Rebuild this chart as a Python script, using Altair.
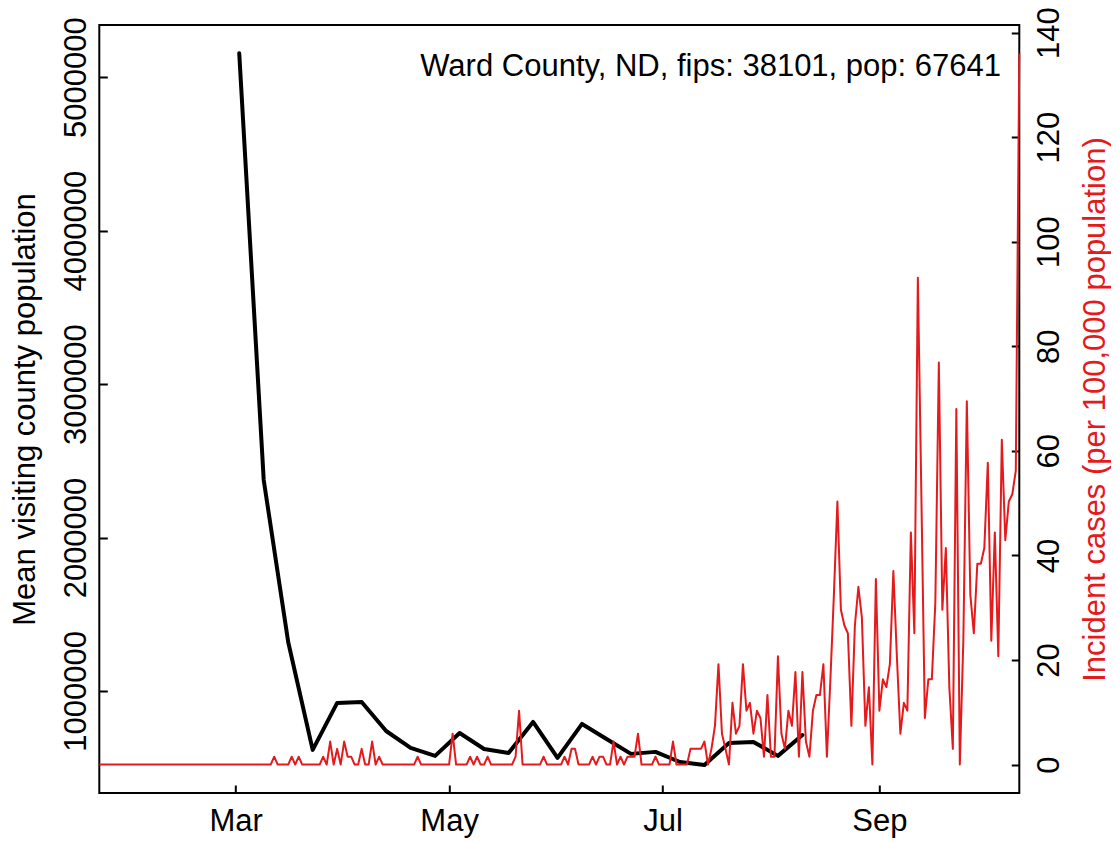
import altair as alt
import pandas as pd

FONT = "Liberation Sans"
RED = "#E41A1C"
W, H = 920, 768

# Weekly mean visiting county population (left axis)
visit_dates = ["2020-03-02", "2020-03-09", "2020-03-16", "2020-03-23", "2020-03-30",
               "2020-04-06", "2020-04-13", "2020-04-20", "2020-04-27", "2020-05-04",
               "2020-05-11", "2020-05-18", "2020-05-25", "2020-06-01", "2020-06-08",
               "2020-06-15", "2020-06-22", "2020-06-29", "2020-07-06", "2020-07-13",
               "2020-07-20", "2020-07-27", "2020-08-03", "2020-08-10"]
visit_pop = [5156000, 2375000, 1319000, 616000, 922000, 928000, 739000, 629000,
             577000, 726000, 622000, 596000, 798000, 564000, 785000, 687000,
             590000, 603000, 537000, 518000, 661000, 668000, 577000, 713000]

# Daily incident cases per 100,000 population (right axis), from 2020-01-22
case_start = "2020-01-22"
incidence = [
    # Jan 22 - Feb 29
    0, 0, 0, 0, 0, 0, 0, 0, 0, 0,
    0, 0, 0, 0, 0, 0, 0, 0, 0, 0,
    0, 0, 0, 0, 0, 0, 0, 0, 0, 0,
    0, 0, 0, 0, 0, 0, 0, 0, 0,
    # Mar 1 onwards
    0, 0, 0, 0, 0, 0, 0, 0, 0, 0,
    0, 1.5, 0, 0, 0, 0, 1.5, 0, 1.5, 0,
    0, 0, 0, 0, 0, 1.5, 0, 4.4, 0, 3.0,
    0, 4.4, 1.5, 1.5, 0, 0, 3.0, 0, 0, 4.4,
    0, 1.5, 0, 0, 0, 0, 0, 0, 0, 0,
    0, 0, 1.5, 0, 0, 0, 0, 0, 0, 0,
    0, 0, 5.9, 0, 0, 0, 0, 1.5, 0, 1.5,
    0, 0, 1.5, 0, 0, 0, 0, 0, 0, 0,
    1.5, 10.3, 0, 0, 0, 0, 0, 0, 1.5, 0,
    0, 0, 0, 0, 1.5, 0, 3.0, 3.0, 0, 0,
    0, 0, 1.5, 0, 1.5, 1.5, 0, 0, 4.4, 0,
    1.5, 0, 1.5, 1.5, 1.5, 5.9, 0, 0, 0, 0,
    1.5, 0, 0, 0, 0, 4.4, 0, 0, 0, 0,
    3.0, 3.0, 3.0, 3.0, 4.4, 0, 3.0, 7.4, 19.2, 5.9,
    3.0, 0, 11.8, 5.9, 7.4, 19.2, 10.3, 11.8, 5.9, 10.3,
    8.9, 1.5, 13.3, 1.5, 1.5, 20.7, 5.9, 3.0, 10.3, 7.4,
    17.7, 1.5, 17.7, 4.4, 1.5, 10.3, 13.3, 13.3, 19.2, 1.5,
    16.3, 32.5, 50.3, 29.6, 26.6, 25.1, 7.4, 26.6, 34.0, 28.1,
    7.4, 14.8, 0, 35.5, 10.3, 16.3, 14.8, 19.2, 37.0, 20.7,
    5.9, 11.8, 10.3, 44.4, 25.1, 93.1, 51.7, 8.9, 16.3, 16.3,
    31.0, 76.9, 29.6, 41.4, 14.8, 3.0, 68.0, 0, 23.7, 69.5,
    32.5, 25.1, 38.4, 38.4, 41.4, 57.7, 23.7, 44.4, 20.7, 62.1,
    42.9, 50.3, 51.7, 56.2, 136.0,
]
case_dates = list(pd.date_range(case_start, periods=len(incidence), freq="D").strftime("%Y-%m-%d"))

tick_months = [3, 5, 7, 9]
left_ticks = [1000000, 2000000, 3000000, 4000000, 5000000]
right_ticks = [0, 20, 40, 60, 80, 100, 120, 140]
annotation = "Ward County, ND, fips: 38101, pop: 67641"

visits = pd.DataFrame({"date": visit_dates, "pop": visit_pop})
cases = pd.DataFrame({"date": case_dates, "inc": incidence})

x_scale = alt.Scale(type="utc", domain=[alt.DateTime(year=2020, month=1, date=22, utc=True),
                                        alt.DateTime(year=2020, month=10, date=11, utc=True)])
x_axis = alt.Axis(values=[alt.DateTime(year=2020, month=m, date=1, utc=True) for m in tick_months],
                  format="%b", title=None, orient="bottom", tickSize=8, offset=-8, domain=False,
                  grid=False, labelPadding=37, labelBaseline="alphabetic", labelAlign="center")

left_axis = alt.Axis(orient="left", values=left_ticks, format="d", labelAngle=270,
                     labelAlign="center", labelBaseline="alphabetic", labelPadding=14.3,
                     tickSize=8, offset=-8, domain=False, grid=False,
                     title="Mean visiting county population", titleAngle=270,
                     titleAlign="center", titleBaseline="alphabetic",
                     titleX=-73.3, titleY=H / 2, titleColor="black")

right_axis = alt.Axis(orient="right", values=right_ticks, format="d", labelAngle=270,
                      labelAlign="center", labelBaseline="alphabetic", labelPadding=39.4,
                      tickSize=8, offset=-8, domain=False, grid=False,
                      title="Incident cases (per 100,000 population)", titleAngle=270,
                      titleAlign="center", titleBaseline="alphabetic",
                      titleX=92.7, titleY=H / 2, titleColor=RED)

black = alt.Chart(visits).mark_line(color="black", strokeWidth=4, strokeJoin="round",
                                    strokeCap="round").encode(
    x=alt.X("date:T", scale=x_scale, axis=x_axis),
    y=alt.Y("pop:Q", scale=alt.Scale(domain=[335000, 5340000], nice=False, zero=False),
            axis=left_axis),
)

red = alt.Chart(cases).mark_line(color=RED, strokeWidth=2, strokeJoin="round").encode(
    x=alt.X("date:T", scale=x_scale, axis=x_axis),
    y=alt.Y("inc:Q", scale=alt.Scale(domain=[-5.44, 141.44], nice=False, zero=False),
            axis=right_axis),
)

note = alt.Chart(pd.DataFrame({"t": [annotation]})).mark_text(
    align="right", baseline="alphabetic", fontSize=31, font=FONT, color="black"
).encode(x=alt.value(901.7), y=alt.value(51), text="t:N")

chart = alt.layer(black, red, note).resolve_scale(y="independent").properties(
    width=W, height=H,
    autosize=alt.AutoSizeParams(type="none"),
    padding={"left": 91.3, "top": 17, "right": 91.7, "bottom": 49},
).configure_view(stroke="black", strokeWidth=2).configure_axis(
    labelFont=FONT, titleFont=FONT, labelFontSize=31, titleFontSize=31,
    labelColor="black", tickColor="black", tickWidth=2, titleFontWeight="normal",
    labelOverlap=False, labelFlush=False,
)

chart.save("out.html", embed_options={"renderer": "svg", "actions": False})
